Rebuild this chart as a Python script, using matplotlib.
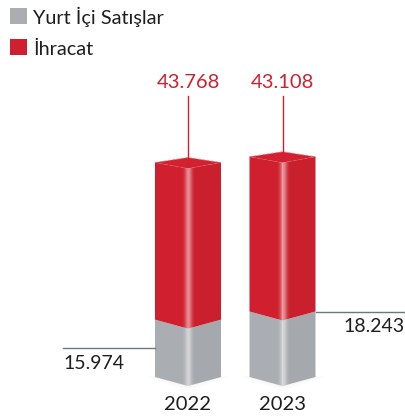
import numpy as np
import matplotlib
matplotlib.use("Agg")
import matplotlib.pyplot as plt
from matplotlib.patches import Polygon, Rectangle
import matplotlib.transforms as mtransforms

# --- data -------------------------------------------------------------
years = ["2022", "2023"]
domestic = [15.974, 18.243]          # Yurt İçi Satışlar
exports = [43.768, 43.108]           # İhracat
domestic_labels = ["15.974", "18.243"]
export_labels = ["43.768", "43.108"]
series_names = ["Yurt İçi Satışlar", "İhracat"]

# --- style ------------------------------------------------------------
RED_L, RED_R, RED_TOP = "#D0202F", "#CA1F2D", "#D22231"
GRAY_L, GRAY_R = "#AAAEB2", "#A5A9AD"
LEADER_GRAY = "#6E7780"
TEXT = "#1E1E1E"
FONT = ["Lato", "DejaVu Sans"]
plt.rcParams["font.family"] = FONT

W, H, DPI = 406, 419, 100
fig = plt.figure(figsize=(W / DPI, H / DPI), dpi=DPI)
ax = fig.add_axes([0, 0, 1, 1])
ax.set_axis_off()

# value scale: pixels per unit, and baseline position
PX_PER_UNIT = 3.59
BASE_PX = 42
X0_PX, STEP_PX = 188, 94.5
ax.set_ylim(-BASE_PX / PX_PER_UNIT, (H - BASE_PX) / PX_PER_UNIT)
ax.set_xlim(-X0_PX / STEP_PX, (W - X0_PX) / STEP_PX)

inv = ax.transData.inverted()


def px_dx(p):
    return inv.transform((p, 0))[0] - inv.transform((0, 0))[0]


def px_dy(p):
    return inv.transform((0, p))[1] - inv.transform((0, 0))[1]


xs = np.arange(len(years))
hw = px_dx(33)        # half width of the prism
drop = px_dy(9)       # drop of the front edge at the bottom / seam
drop_top = px_dy(6)   # drop of the front corner of the top face
back = px_dy(5)       # rise of the back corner of the top face


def prism_segment(x, y0, y1, d0, d1, cl, cr, z=2):
    left = [(x - hw, y0), (x - hw, y1), (x, y1 - d1), (x, y0 - d0)]
    right = [(x, y0 - d0), (x, y1 - d1), (x + hw, y1), (x + hw, y0)]
    ax.add_patch(Polygon(left, closed=True, fc=cl, ec="none", zorder=z))
    ax.add_patch(Polygon(right, closed=True, fc=cr, ec="none", zorder=z))


# faint shadow under the bars
for x in xs:
    for k in range(4):
        ax.add_patch(Polygon(
            [(x - hw - px_dx(3 + 2 * k), 0), (x, -drop - px_dy(1 + 1.5 * k)),
             (x + hw + px_dx(3 + 2 * k), 0), (x, px_dy(6))],
            closed=True, fc="#9AA0A6", ec="none", alpha=0.02, zorder=1))

for i, x in enumerate(xs):
    g = domestic[i]
    t = domestic[i] + exports[i]
    prism_segment(x, 0, g, drop, drop, GRAY_L, GRAY_R)
    prism_segment(x, g, t, drop, drop_top, RED_L, RED_R)
    top = [(x - hw, t), (x, t + back), (x + hw, t), (x, t - drop_top)]
    ax.add_patch(Polygon(top, closed=True, fc=RED_TOP, ec="none", zorder=3))
    ax.plot([x - hw, x, x + hw], [t, t + back, t], ls=(0, (2.5, 2)),
            color="#E8707C", lw=0.7, alpha=0.8, zorder=4)
    ax.plot([x - hw, x, x + hw], [t, t - drop_top, t], ls=(0, (2.5, 2)),
            color="#E05663", lw=0.6, alpha=0.6, zorder=4)

    # highlight along the front edge
    outline = Polygon([(x - hw, 0), (x - hw, t), (x, t - drop_top),
                       (x + hw, t), (x + hw, 0), (x, -drop)], closed=True,
                      transform=ax.transData)
    n = 200
    gx = np.linspace(-px_dx(12), px_dx(12), n)
    prof = np.exp(-0.5 * ((gx - px_dx(0.5)) / px_dx(2.4)) ** 2) * 0.5
    img = np.ones((2, n, 4))
    img[..., 3] = prof[None, :]
    im = ax.imshow(img, extent=(x + gx[0], x + gx[-1], -drop, t),
                   aspect="auto", interpolation="bilinear", zorder=5)
    im.set_clip_path(outline)

ax.set_xlim(-X0_PX / STEP_PX, (W - X0_PX) / STEP_PX)
ax.set_ylim(-BASE_PX / PX_PER_UNIT, (H - BASE_PX) / PX_PER_UNIT)

# export labels with leader lines
bt = mtransforms.blended_transform_factory(ax.transData, ax.transAxes)
for i, x in enumerate(xs):
    t = domestic[i] + exports[i]
    ax.text(x, 1 - 82 / H, export_labels[i], transform=bt, ha="center",
            va="center", color="#D0202F", fontsize=14.5)
    y_top = inv.transform((0, H - 96))[1]
    ax.plot([x, x], [y_top, t], color="#D0202F", lw=1, zorder=6)

# domestic labels with leader lines
x_left = inv.transform((63, 0))[0]
x_right = inv.transform((W, 0))[0]
y_l = domestic[0] / 2
ax.plot([x_left, xs[0] - hw], [y_l, y_l], color=LEADER_GRAY, lw=1, zorder=6)
ax.text(x_left, y_l - px_dy(15), domestic_labels[0], ha="left", va="center",
        color=TEXT, fontsize=14)
y_r = domestic[1]
ax.plot([xs[1] + hw, x_right], [y_r, y_r], color=LEADER_GRAY, lw=1, zorder=6)
ax.text(inv.transform((W - 1, 0))[0], y_r - px_dy(15), domestic_labels[1],
        ha="right", va="center", color=TEXT, fontsize=14)

# year labels
for i, x in enumerate(xs):
    ax.text(x, -px_dy(27), years[i], ha="center", va="center", color=TEXT,
            fontsize=14.5)

# legend
for k, (name, col) in enumerate(zip(series_names, [GRAY_L, RED_L])):
    y_top_px = 8 + 31 * k
    fig.add_artist(Rectangle((10 / W, 1 - (y_top_px + 16) / H), 17 / W, 16 / H,
                             transform=fig.transFigure, fc=col, ec="none"))
    fig.text(33 / W, 1 - (y_top_px + 16) / H, name, ha="left", va="baseline",
             color=TEXT, fontsize=14.3)

fig.savefig("out.png", dpi=DPI)
